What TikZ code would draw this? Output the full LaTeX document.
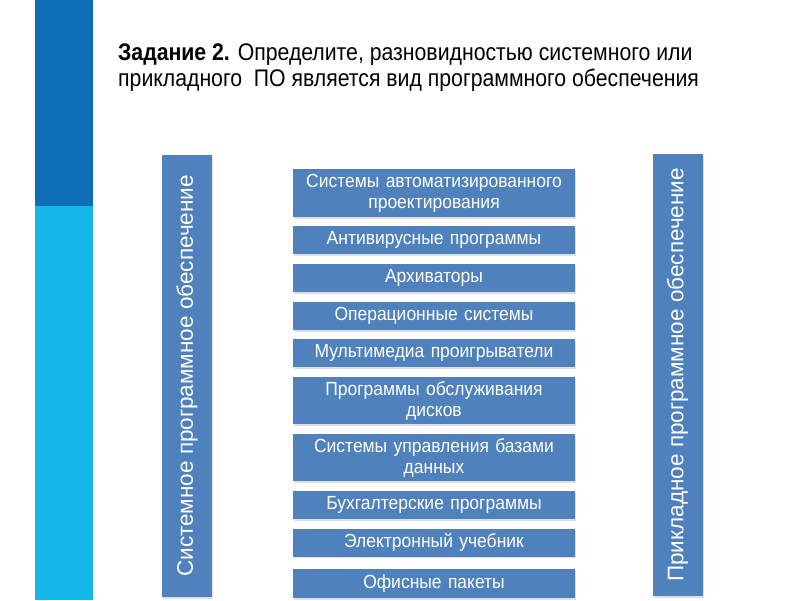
\documentclass[tikz,border=0pt]{standalone}
\usepackage{fontspec}
\setmainfont{Liberation Sans}
\newfontfamily\titlefont[FakeStretch=0.885]{Liberation Sans}
\newfontfamily\boxfont[FakeStretch=0.92]{Liberation Sans}
\usetikzlibrary{positioning,shadows}

\definecolor{bardark}{HTML}{0D6DB7}
\definecolor{barlight}{HTML}{14B6EA}
\definecolor{boxblue}{HTML}{4F81BD}

\begin{document}
\begin{tikzpicture}[x=1pt,y=-1pt,
  every node/.style={font=\boxfont\fontsize{19}{21}\selectfont},
  kind/.style={fill=boxblue,text=white,inner sep=0pt,align=center,
    minimum width=282pt,text width=280pt,
    drop shadow={shadow xshift=1pt,shadow yshift=-1.5pt,opacity=0.25}},
  group/.style={fill=boxblue,text=white,inner sep=0pt,rotate=90,
    minimum width=442pt,minimum height=50pt,
    font=\rmfamily\fontsize{22.5}{24}\selectfont,
    drop shadow={shadow xshift=1pt,shadow yshift=-1.5pt,opacity=0.25}}]
  \useasboundingbox (0,0) rectangle (800,600);
  \fill[white] (0,0) rectangle (800,600);

  % side bar
  \fill[bardark] (35,0) rectangle (93,206);
  \fill[barlight] (35,206) rectangle (93,600);

  % task
  \node[anchor=base west,font=\titlefont\fontsize{24}{26}\selectfont,align=left,inner sep=0pt] (task) at (118,86)
    {\textbf{Задание 2.} Определите, разновидностью системного или\\
     прикладного\ \ ПО является вид программного обеспечения};

  % groups
  \node[group] (sys) at (187,376) {Системное программное обеспечение};
  \node[group] (app) at (677.5,375) {Прикладное программное обеспечение};

  % kinds of software
  \node[kind,minimum height=48pt] (cad) at (434,193) {Системы автоматизированного\\проектирования};
  \node[kind,minimum height=28pt] (av) at (434,240) {Антивирусные программы};
  \node[kind,minimum height=28pt] (arc) at (434,278) {Архиваторы};
  \node[kind,minimum height=28pt] (os) at (434,316) {Операционные системы};
  \node[kind,minimum height=28pt] (mm) at (434,353) {Мультимедиа проигрыватели};
  \node[kind,minimum height=47pt] (disk) at (434,400.5) {Программы обслуживания\\дисков};
  \node[kind,minimum height=47pt] (db) at (434,457.5) {Системы управления базами\\данных};
  \node[kind,minimum height=28pt] (acc) at (434,505) {Бухгалтерские программы};
  \node[kind,minimum height=28pt] (ebook) at (434,542.5) {Электронный учебник};
  \node[kind,minimum height=29pt] (office) at (434,583.5) {Офисные пакеты};
\end{tikzpicture}
\end{document}
